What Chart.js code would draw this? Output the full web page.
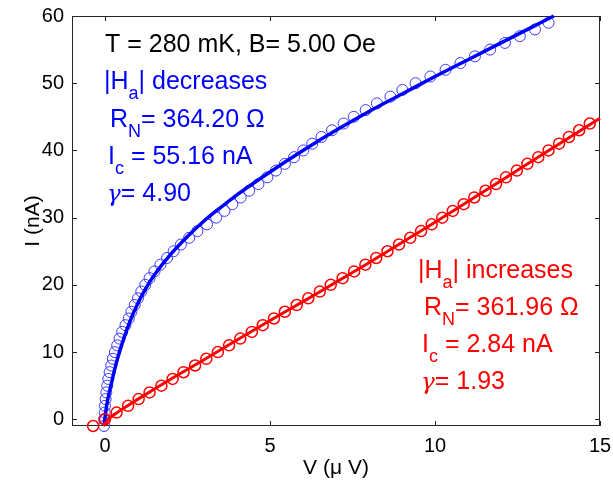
<!DOCTYPE html>
<html>
<head>
<meta charset="utf-8">
<script src="https://cdn.jsdelivr.net/npm/chart.js@4.4.1/dist/chart.umd.min.js"></script>
<style>
html,body{margin:0;padding:0;background:#fff;}
#wrap{width:613px;height:483px;position:relative;}
</style>
</head>
<body>
<div id="wrap"><canvas id="c" width="613" height="483"></canvas></div>
<script>
// ---- data ----
const blueI = [-1,0,1,2,3,4,5,6,7,8,9,10,11,12,13,14,15,16,17,18,19,20,21,22,23,24,25,26,27,28,29,30,31,32,33,34,35,36,37,38,39,40,41,42,43,44,45,46,47,48,49,50,51,52,53,54,55,56,57,58,59];
const blueV = [-0.03,-0.03,-0.01,0.00,0.02,0.04,0.07,0.10,0.14,0.19,0.24,0.30,0.37,0.44,0.52,0.62,0.72,0.80,0.90,1.00,1.10,1.22,1.35,1.50,1.68,1.88,2.08,2.30,2.55,2.80,3.09,3.37,3.62,3.86,4.11,4.37,4.65,4.92,5.18,5.45,5.73,6.01,6.28,6.56,6.88,7.23,7.54,7.90,8.24,8.65,9.01,9.41,9.86,10.32,10.77,11.21,11.67,12.12,12.57,13.03,13.44];
const redI = [-1,0,1,2,3,4,5,6,7,8,9,10,11,12,13,14,15,16,17,18,19,20,21,22,23,24,25,26,27,28,29,30,31,32,33,34,35,36,37,38,39,40,41,42,43,44];
const redV = [-0.36,0.00,0.35,0.70,1.02,1.35,1.71,2.05,2.38,2.73,3.07,3.42,3.76,4.10,4.45,4.78,5.12,5.45,5.81,6.16,6.51,6.84,7.20,7.55,7.89,8.22,8.56,8.91,9.25,9.58,9.90,10.22,10.54,10.87,11.19,11.53,11.85,12.15,12.48,12.80,13.13,13.44,13.76,14.06,14.37,14.69];
const blueFitV = [-0.03,0.05,0.2,0.35,0.5,0.75,1.0,1.25,1.5,2.0,2.5,3.0,3.5,4.0,5.0,6.0,7.0,8.0,9.0,10.0,11.0,12.0,13.0,13.6];
const blueFitI = [-0.9,2.0,5.5,8.5,11.0,14.5,17.3,19.6,21.5,24.6,27.2,29.5,31.5,33.4,36.8,40.0,43.0,45.8,48.4,51.0,53.5,56.0,58.5,60.0];
const redFitV = [-0.05,0.1,0.4,1.0,2.0,3.0,4.0,5.0,6.0,7.0,8.0,9.0,10.0,11.0,12.0,13.0,14.0,15.0];
const redFitI = [-1.0,0.0,1.1,3.0,6.0,8.85,11.8,14.7,17.5,20.4,23.3,26.3,29.3,32.4,35.5,38.6,41.7,44.8];
const xTicks = [0,5,10,15];
const yTicks = [0,10,20,30,40,50,60];
const xTitle = 'V (\u03bc V)';
const yTitle = 'I (nA)';
const headText = 'T = 280 mK, B= 5.00 Oe';
const blueText = [[['|H','n'],['a','s'],['| decreases','n']],[['R','n'],['N','s'],['= 364.20 \u03a9','n']],[['I','n'],['c','s'],[' = 55.16 nA','n']],[['\u03b3','g'],['= 4.90','n']]];
const redText  = [[['|H','n'],['a','s'],['| increases','n']],[['R','n'],['N','s'],['= 361.96 \u03a9','n']],[['I','n'],['c','s'],[' = 2.84 nA','n']],[['\u03b3','g'],['= 1.93','n']]];

const FONT = '"Liberation Sans", Arial, sans-serif';
const SERIF = '"DejaVu Serif", "Liberation Serif", serif';
const zip = (xs, ys) => xs.map((x, i) => ({x: x, y: ys[i]}));

function drawParts(ctx, x, y, parts, size, color) {
  ctx.fillStyle = color;
  ctx.textBaseline = 'alphabetic';
  ctx.textAlign = 'left';
  let cx = x;
  for (const [t, k] of parts) {
    if (k === 's') {
      ctx.font = Math.round(size * 0.72) + 'px ' + FONT;
      ctx.fillText(t, cx, y + size * 0.4);
    } else if (k === 'g') {
      ctx.font = 'italic ' + Math.round(size * 0.9) + 'px ' + SERIF;
      ctx.fillText(t, cx, y);
    } else {
      ctx.font = size + 'px ' + FONT;
      ctx.fillText(t, cx, y);
    }
    cx += ctx.measureText(t).width;
  }
}

const frame = {
  id: 'frame',
  beforeDatasetsDraw(chart) {
    const ctx = chart.ctx;
    const a = chart.chartArea;
    const xs = chart.scales.x, ys = chart.scales.y;
    ctx.save();
    ctx.strokeStyle = '#262626';
    ctx.lineWidth = 1;
    ctx.strokeRect(Math.round(a.left) + 0.5, Math.round(a.top) + 0.5, Math.round(a.right - a.left) - 1, Math.round(a.bottom - a.top) - 1);
    ctx.beginPath();
    for (const v of xTicks) {
      const p = Math.round(xs.getPixelForValue(v)) + 0.5;
      ctx.moveTo(p, a.bottom); ctx.lineTo(p, a.bottom - 5);
      ctx.moveTo(p, a.top); ctx.lineTo(p, a.top + 5);
    }
    for (const v of yTicks) {
      const p = Math.round(ys.getPixelForValue(v)) + 0.5;
      ctx.moveTo(a.left, p); ctx.lineTo(a.left + 5, p);
      ctx.moveTo(a.right, p); ctx.lineTo(a.right - 5, p);
    }
    ctx.stroke();
    ctx.restore();
  },
  afterDraw(chart) {
    const ctx = chart.ctx;
    ctx.save();
    // axis titles
    ctx.fillStyle = '#000';
    ctx.font = '21px ' + FONT;
    ctx.textAlign = 'center';
    ctx.textBaseline = 'alphabetic';
    ctx.fillText(xTitle, 336, 474);
    ctx.translate(39, 221);
    ctx.rotate(-Math.PI / 2);
    ctx.fillText(yTitle, 0, 0);
    ctx.setTransform(1, 0, 0, 1, 0, 0);
    // annotations
    drawParts(ctx, 105, 52, [[headText, 'n']], 25, '#000');
    const bx = [104, 110, 108, 107];
    const by = [89, 127, 164, 201];
    blueText.forEach((p, i) => drawParts(ctx, bx[i], by[i], p, 25, '#0000ff'));
    const rx = [418, 424, 422, 421];
    const ry = [278, 315, 352, 389];
    redText.forEach((p, i) => drawParts(ctx, rx[i], ry[i], p, 25, '#ff0000'));
    ctx.restore();
  }
};

new Chart(document.getElementById('c'), {
  type: 'scatter',
  data: {
    datasets: [
      { label: 'red fit', data: zip(redFitV, redFitI), showLine: true, borderColor: '#ff0000', borderWidth: 3, pointRadius: 0, cubicInterpolationMode: 'monotone', clip: false },
      { label: 'red data', data: zip(redV, redI), showLine: false, borderColor: '#ff0000', backgroundColor: 'rgba(0,0,0,0)', borderWidth: 1.5, pointRadius: 5.5, pointHoverRadius: 5.5, clip: false },
      { label: 'blue fit', data: zip(blueFitV, blueFitI), showLine: true, borderColor: '#0000ff', borderWidth: 3.5, pointRadius: 0, cubicInterpolationMode: 'monotone', clip: false },
      { label: 'blue data', data: zip(blueV, blueI), showLine: false, borderColor: '#3a3aff', backgroundColor: 'rgba(0,0,0,0)', borderWidth: 1, pointRadius: 5.5, pointHoverRadius: 5.5, clip: false }
    ]
  },
  options: {
    responsive: false,
    animation: false,
    layout: { padding: { top: 16, right: 13, left: 0, bottom: 0 } },
    plugins: { legend: { display: false }, tooltip: { enabled: false } },
    scales: {
      x: {
        type: 'linear', min: -1, max: 15,
        grid: { display: false },
        border: { display: false },
        afterBuildTicks: s => { s.ticks = xTicks.map(v => ({ value: v })); },
        afterFit: s => { s.height = 57; },
        ticks: { color: '#000', padding: 0, font: { size: 20, family: FONT }, maxRotation: 0, autoSkip: false }
      },
      y: {
        type: 'linear', min: -1, max: 60,
        grid: { display: false },
        border: { display: false },
        afterBuildTicks: s => { s.ticks = yTicks.map(v => ({ value: v })); },
        afterFit: s => { s.width = 72; },
        ticks: { color: '#000', padding: 0, font: { size: 20, family: FONT }, autoSkip: false }
      }
    }
  },
  plugins: [frame]
});
</script>
</body>
</html>
